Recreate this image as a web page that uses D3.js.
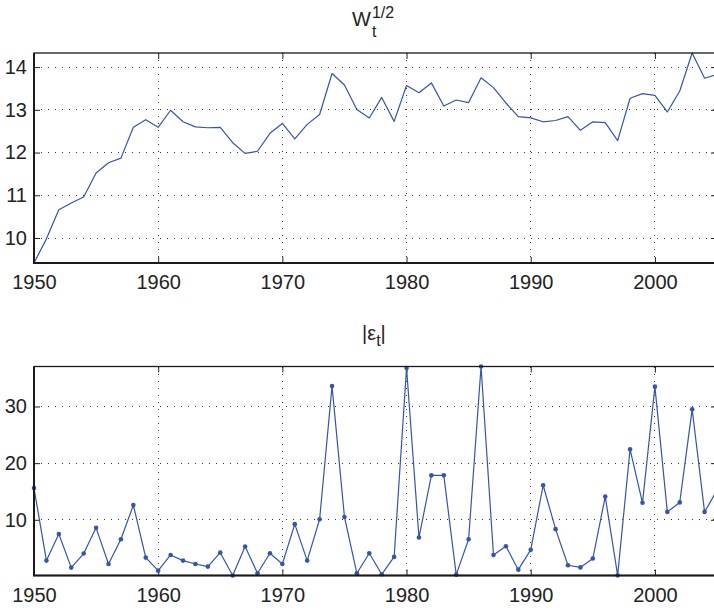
<!DOCTYPE html>
<html>
<head>
<meta charset="utf-8">
<script src="https://cdn.jsdelivr.net/npm/d3@7"></script>
<style>
  html, body { margin: 0; padding: 0; background: #fff; }
  svg { display: block; }
  text { font-family: "Liberation Sans", Arial, Helvetica, sans-serif; fill: #222; }
</style>
</head>
<body>
<svg id="chart" width="714" height="610"></svg>
<script>
// ---- data ----
const years = d3.range(1950, 2006);
const wSqrt = [
  9.415, 9.98, 10.66, 10.82, 10.96, 11.52, 11.76, 11.87, 12.59, 12.77,
  12.59, 12.99, 12.72, 12.60, 12.58, 12.59, 12.23, 11.98, 12.03, 12.45,
  12.68, 12.32, 12.66, 12.89, 13.85, 13.58, 13.01, 12.81, 13.29, 12.73,
  13.57, 13.40, 13.63, 13.09, 13.23, 13.17, 13.75, 13.52, 13.16, 12.84,
  12.81, 12.72, 12.75, 12.84, 12.52, 12.72, 12.70, 12.28, 13.27, 13.38,
  13.34, 12.95, 13.44, 14.33, 13.74, 13.83
];
const absEps = [
  15.6, 2.8, 7.5, 1.56, 4.04, 8.58, 2.21, 6.58, 12.6, 3.33,
  1.03, 3.8, 2.8, 2.2, 1.74, 4.2, 0.17, 5.28, 0.56, 4.1,
  2.2, 9.23, 2.8, 10.1, 33.6, 10.5, 0.56, 4.1, 0.38, 3.45,
  36.8, 6.87, 17.85, 17.85, 0.32, 6.58, 37.06, 3.8, 5.34, 1.2,
  4.7, 16.1, 8.35, 1.98, 1.6, 3.16, 14.1, 0.2, 22.45, 13.0,
  33.5, 11.4, 13.07, 29.5, 11.4, 15.2
];
const xTicks = [1950, 1960, 1970, 1980, 1990, 2000];
const yTicksTop = [10, 11, 12, 13, 14];
const yTicksBottom = [10, 20, 30];

// ---- layout ----
const svg = d3.select("#chart");
const left = 34, right = 717;
const lineColor = "#3654ab";

const x = d3.scaleLinear().domain(d3.extent(years)).range([left, right]);

function panel(top, bottom, values, yTicks, markers) {
  const y = d3.scaleLinear().domain(d3.extent(values)).range([bottom, top]);
  const g = svg.append("g");
  const tickLen = 6;

  // grid
  g.append("g").selectAll("line").data(xTicks.filter(t => t > x.domain()[0])).join("line")
    .attr("x1", d => x(d)).attr("x2", d => x(d))
    .attr("y1", top).attr("y2", bottom)
    .attr("stroke", "#333").attr("stroke-width", 1)
    .attr("stroke-dasharray", "1,6").attr("shape-rendering", "crispEdges");
  g.append("g").selectAll("line").data(yTicks).join("line")
    .attr("x1", left).attr("x2", right)
    .attr("y1", d => y(d)).attr("y2", d => y(d))
    .attr("stroke", "#333").attr("stroke-width", 1)
    .attr("stroke-dasharray", "1,6").attr("shape-rendering", "crispEdges");

  // axes (ticks inside)
  const fmt = d3.format("d");
  const xAxisB = d3.axisBottom(x).tickValues(xTicks).tickFormat(fmt).tickSizeInner(-tickLen).tickSizeOuter(0).tickPadding(12);
  const xAxisT = d3.axisTop(x).tickValues(xTicks).tickFormat("").tickSizeInner(-tickLen).tickSizeOuter(0);
  const yAxisL = d3.axisLeft(y).tickValues(yTicks).tickFormat(fmt).tickSizeInner(-tickLen).tickSizeOuter(0).tickPadding(7);
  const yAxisR = d3.axisRight(y).tickValues(yTicks).tickFormat("").tickSizeInner(-tickLen).tickSizeOuter(0);

  const styleAxis = sel => {
    sel.select(".domain").remove();
    sel.selectAll(".tick line").attr("stroke", "#222").attr("stroke-width", 1);
    sel.selectAll(".tick text").attr("font-size", 20).attr("fill", "#222")
      .attr("font-family", "'Liberation Sans', Arial, Helvetica, sans-serif");
  };
  g.append("g").attr("transform", `translate(0,${bottom})`).call(xAxisB).call(styleAxis);
  g.append("g").attr("transform", `translate(0,${top})`).call(xAxisT).call(styleAxis);
  g.append("g").attr("transform", `translate(${left},0)`).call(yAxisL).call(styleAxis);
  g.append("g").attr("transform", `translate(${right},0)`).call(yAxisR).call(styleAxis);

  // line
  const line = d3.line().x((d, i) => x(years[i])).y(d => y(d));
  g.append("path").datum(values)
    .attr("fill", "none").attr("stroke", lineColor).attr("stroke-width", 1.2)
    .attr("stroke-linejoin", "round").attr("d", line);

  if (markers) {
    g.append("g").selectAll("circle").data(values).join("circle")
      .attr("cx", (d, i) => x(years[i])).attr("cy", d => y(d))
      .attr("r", 2.3).attr("fill", lineColor);
  }

  // frame: top/right thinner, left/bottom heavier
  g.append("rect").attr("x", left).attr("y", top)
    .attr("width", right - left).attr("height", bottom - top)
    .attr("fill", "none").attr("stroke", "#1a1a1a").attr("stroke-width", 1.3);
  g.append("path")
    .attr("d", `M${left},${top}V${bottom}H${right}`)
    .attr("fill", "none").attr("stroke", "#1a1a1a").attr("stroke-width", 2);
  return y;
}

panel(53, 263, wSqrt, yTicksTop, false);
panel(366.5, 575.5, absEps, yTicksBottom, true);

// titles
const t1 = svg.append("text").attr("x", 352).attr("y", 26).attr("font-size", 20);
t1.append("tspan").text("W");
t1.append("tspan").attr("font-size", 16).attr("dy", -8).attr("dx", 1).text("1/2");
svg.append("text").attr("x", 372).attr("y", 37).attr("font-size", 16).text("t");

const t2 = svg.append("text").attr("x", 362).attr("y", 340).attr("font-size", 20);
t2.append("tspan").text("|ε");
t2.append("tspan").attr("font-size", 16).attr("dy", 6).text("t");
t2.append("tspan").attr("dy", -6).text("|");
</script>
</body>
</html>
